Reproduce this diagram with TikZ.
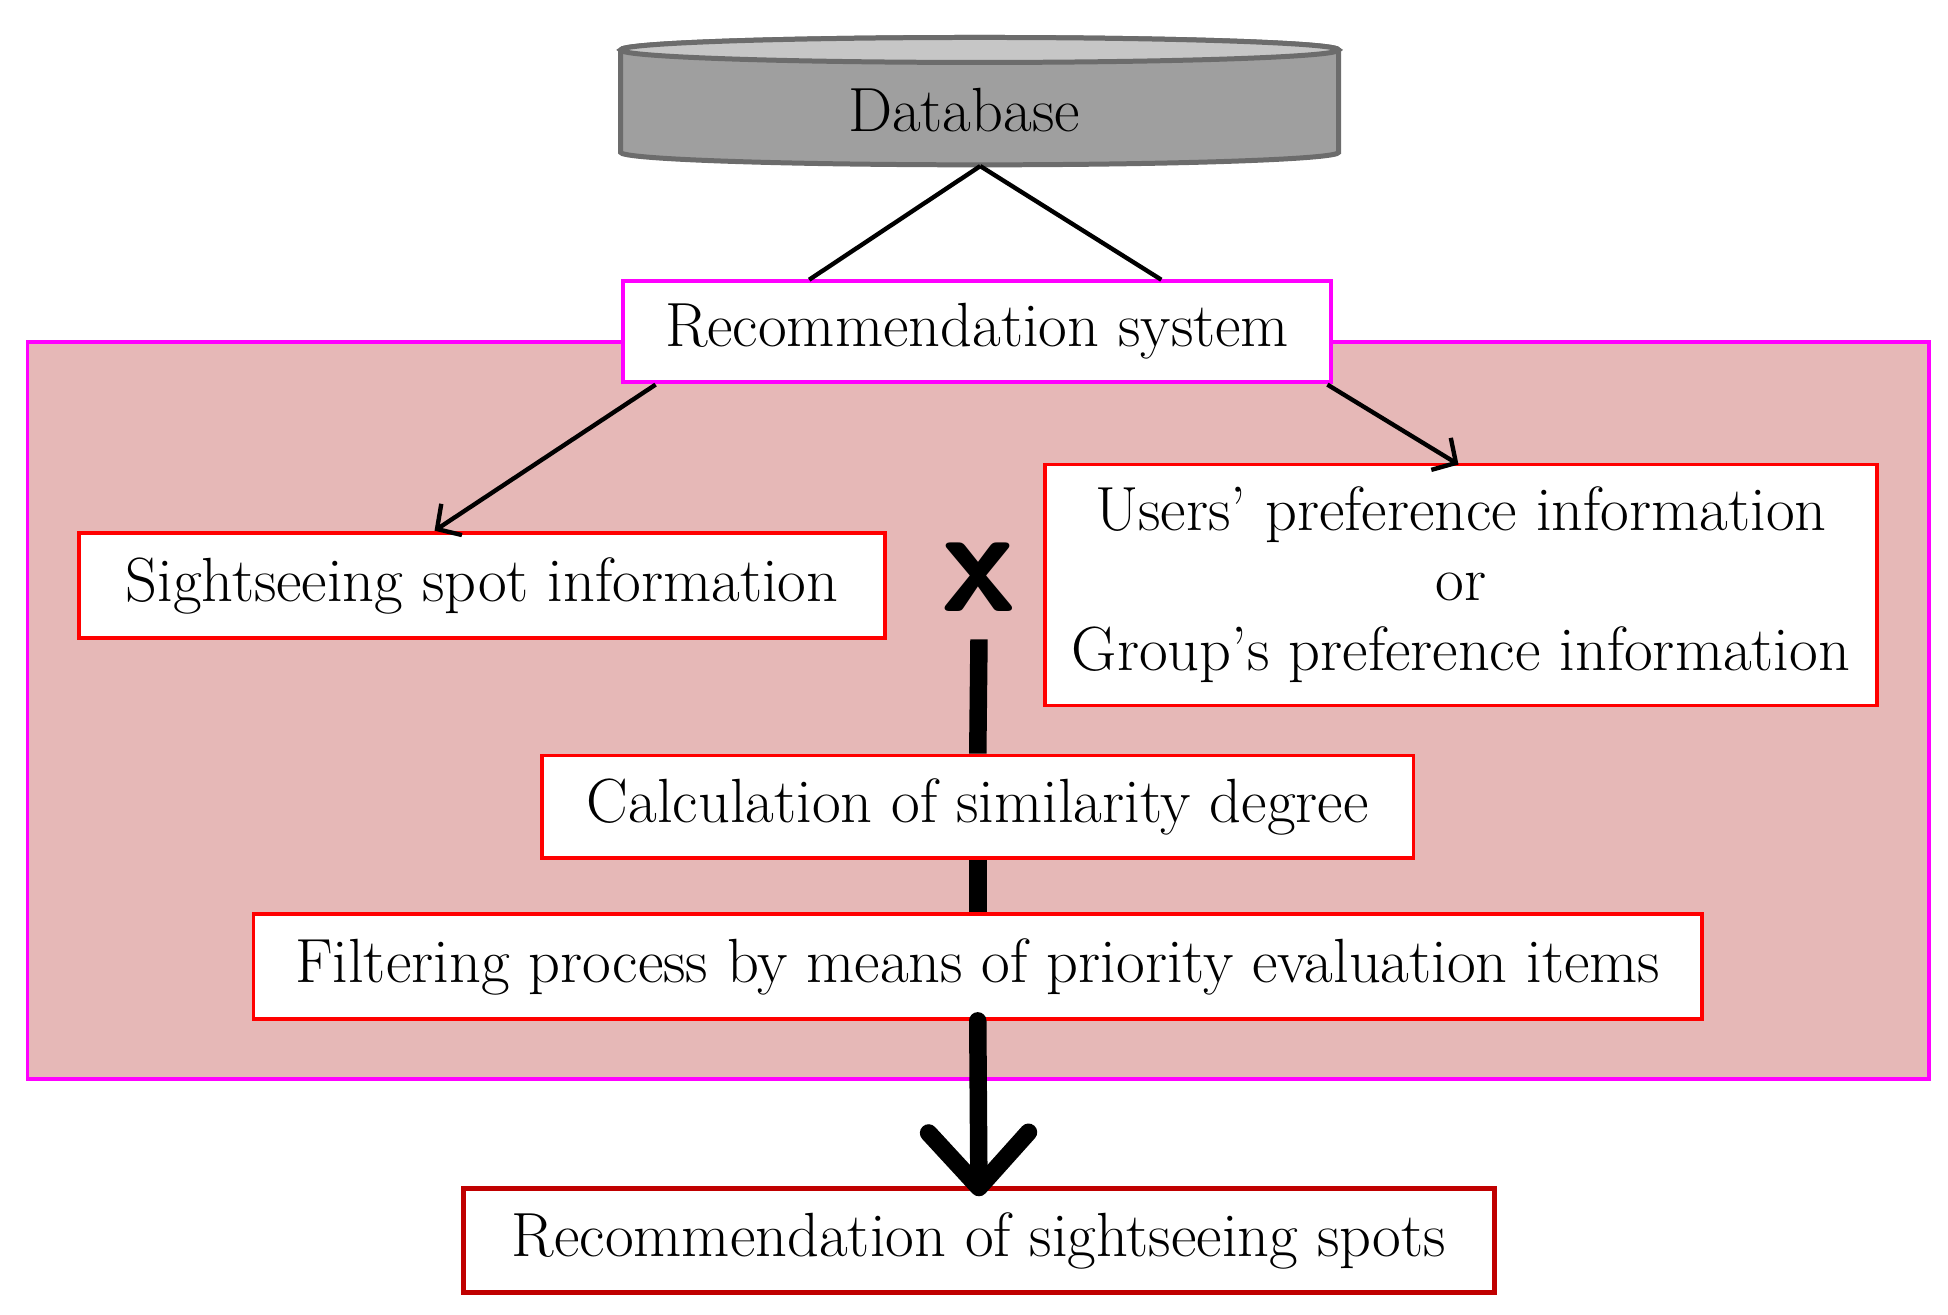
\documentclass[tikz,border=0pt]{standalone}
\usetikzlibrary{arrows.meta}
\definecolor{bgpink}{HTML}{E6B8B7}
\definecolor{mag}{HTML}{FF00FF}
\definecolor{boxred}{HTML}{FF0000}
\definecolor{dred}{HTML}{C00000}
\begin{document}
\begin{tikzpicture}[x=1pt,y=-1pt,
  box/.style={draw=boxred,line width=3pt,fill=white,inner sep=0pt,font=\fontsize{50}{56}\selectfont,align=center},
  thin/.style={line width=3.5pt},
  thick/.style={line width=14pt}]
\useasboundingbox (0,0) rectangle (1560,1053);
% database
\fill[gray!75!white,draw=gray!85!black,line width=4pt] (497,40) -- (497,122) arc[start angle=180,end angle=0,x radius=287.5,y radius=10] -- (1072,40) arc[start angle=0,end angle=-180,x radius=287.5,y radius=10];
\draw[fill=gray!45!white,draw=gray!85!black,line width=4pt] (784.5,40) ellipse[x radius=287.5,y radius=10];
\node[font=\fontsize{50}{56}\selectfont] (db) at (772,88) {Database};
\coordinate (dbb) at (785,133);
% background
\draw[fill=bgpink,draw=mag,line width=3pt] (22,274) rectangle (1545,864);
\node[box,draw=mag,minimum width=567pt,minimum height=81pt] (rs) at (782.5,265.5) {Recommendation system};
\draw[thin] (dbb) -- (648,224);
\draw[thin] (dbb) -- (930,224);
\node[box,minimum width=646pt,minimum height=84pt] (ss) at (386,469) {Sightseeing spot information};
\node[box,minimum width=666pt,minimum height=193pt] (up) at (1170,468.5) {Users' preference information\\ or\\ Group's preference information};
\draw[thin,-{Straight Barb[length=14pt,width=30pt]}] (525,308) -- (348,425);
\draw[thin,-{Straight Barb[length=14pt,width=30pt]}] (1063,308) -- (1168,372);
\node[font=\fontsize{120}{120}\selectfont\bfseries,inner sep=0pt] (x) at (784,462) {\textsf{x}};
\node[box,minimum width=698pt,minimum height=82pt] (cs) at (783,646) {Calculation of similarity degree};
\node[box,minimum width=1160pt,minimum height=84pt] (fp) at (783,774) {Filtering process by means of priority evaluation items};
\node[box,draw=dred,line width=4pt,minimum width=826pt,minimum height=83pt] (rec) at (784,993.5) {Recommendation of sightseeing spots};
\draw[thick] (784,512) -- (cs.north);
\draw[thick] (cs.south) -- (fp.north);
\draw[thick,line cap=round,-{Straight Barb[length=44pt,width=80pt,line cap=round,round]}] (fp.south) -- ([yshift=-8pt]rec.north);
\end{tikzpicture}
\end{document}
